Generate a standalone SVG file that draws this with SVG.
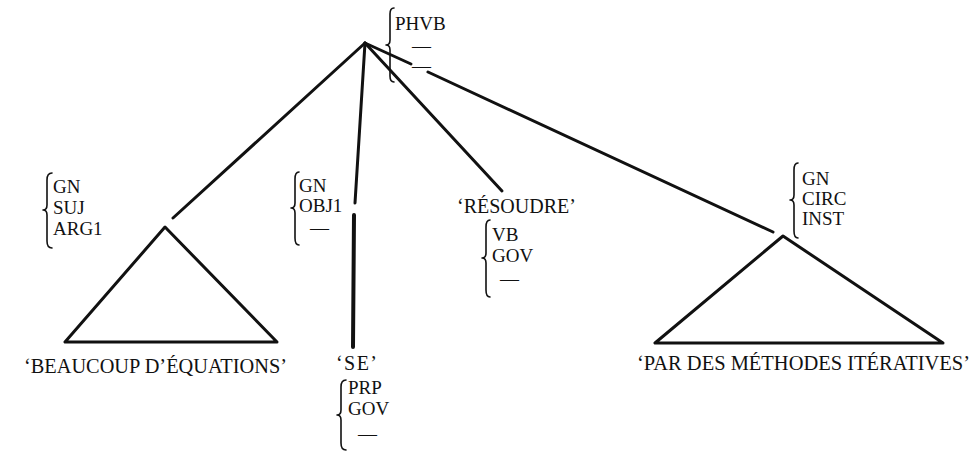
<svg xmlns="http://www.w3.org/2000/svg" width="972" height="473" viewBox="0 0 972 473">
<style>
.t{font-family:"Liberation Serif","Times New Roman",serif;font-size:19px;fill:#111}
.b{font-family:"Liberation Serif","Times New Roman",serif;font-size:20px;fill:#111}
.br{fill:none;stroke:#111;stroke-width:1.6;stroke-linejoin:round;stroke-linecap:round}
.e{fill:none;stroke:#111;stroke-width:3;stroke-linecap:round;stroke-linejoin:round}
</style>
<rect width="972" height="473" fill="#fff"/>
<g id="connectors">
<line class="e" x1="365" y1="43" x2="173" y2="218"/>
<line class="e" x1="365" y1="43" x2="355" y2="203"/>
<line class="e" x1="354" y1="215" x2="353" y2="347" style="stroke-width:4"/>
<line class="e" x1="365" y1="43" x2="502" y2="191"/>
<line class="e" x1="365" y1="43" x2="411" y2="64"/>
<line class="e" x1="428" y1="72" x2="773" y2="232"/>
</g>
<g id="root">
<path class="br" d="M394,8 Q390,8 390,14 L390,40 Q390,45 386,45 Q390,45 390,50 L390,76 Q390,82 394,82"/>
<text class="t" x="395" y="30">PHVB</text>
<text class="t" x="412" y="52">—</text>
<text class="t" x="412" y="72">—</text>
</g>
<g id="node-suj">
<path class="e" d="M165,227 L65,342 L277,342 Z"/>
<path class="br" d="M52,173 Q47,173 47,180 L47,205 Q47,210 43,210 Q47,210 47,215 L47,241 Q47,248 52,248"/>
<text class="t" x="53" y="193">GN</text>
<text class="t" x="53" y="214">SUJ</text>
<text class="t" x="53" y="235">ARG1</text>
<text class="b" x="24" y="373" textLength="263" lengthAdjust="spacingAndGlyphs">‘BEAUCOUP D’ÉQUATIONS’</text>
</g>
<g id="node-obj1">
<path class="br" d="M299,172 Q295,172 295,179 L295,203 Q295,208 291,208 Q295,208 295,213 L295,238 Q295,245 299,245"/>
<text class="t" x="299" y="192">GN</text>
<text class="t" x="299" y="212">OBJ1</text>
<text class="t" x="310" y="234">—</text>
</g>
<g id="node-se">
<text class="b" x="336" y="370" textLength="41" lengthAdjust="spacing">‘SE’</text>
<path class="br" d="M346,380 Q341,380 341,387 L341,410 Q341,415 337,415 Q341,415 341,420 L341,443 Q341,450 346,450"/>
<text class="t" x="348" y="394">PRP</text>
<text class="t" x="348" y="415">GOV</text>
<text class="t" x="358" y="440">—</text>
</g>
<g id="node-resoudre">
<text class="b" x="457" y="213">‘RÉSOUDRE’</text>
<path class="br" d="M490,220 Q486,220 486,227 L486,253 Q486,258 482,258 Q486,258 486,263 L486,290 Q486,297 490,297"/>
<text class="t" x="492" y="241">VB</text>
<text class="t" x="492" y="262">GOV</text>
<text class="t" x="500" y="285">—</text>
</g>
<g id="node-circ">
<path class="e" d="M783,236 L655,343 L943,343 Z"/>
<path class="br" d="M798,163 Q794,163 794,170 L794,195 Q794,200 790,200 Q794,200 794,205 L794,231 Q794,238 798,238"/>
<text class="t" x="802" y="185">GN</text>
<text class="t" x="802" y="205">CIRC</text>
<text class="t" x="802" y="225">INST</text>
<text class="b" x="637" y="370" textLength="333" lengthAdjust="spacingAndGlyphs">‘PAR DES MÉTHODES ITÉRATIVES’</text>
</g>
</svg>
